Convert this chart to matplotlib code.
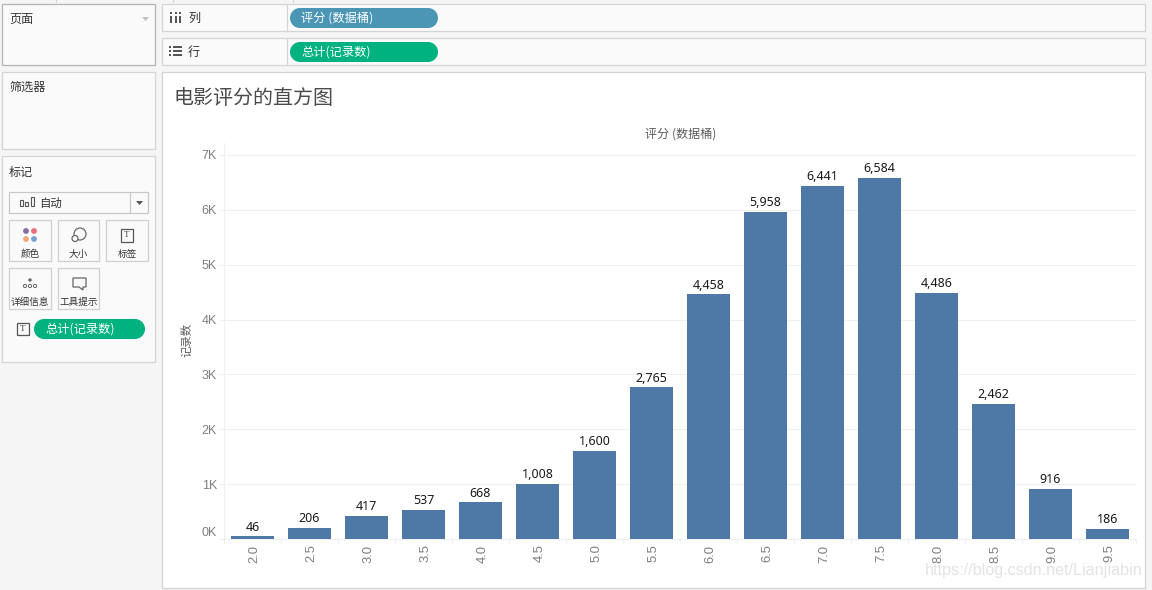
import matplotlib
matplotlib.use("Agg")
import matplotlib.pyplot as plt
from matplotlib.patches import Rectangle, Circle, Polygon
from matplotlib.ticker import FuncFormatter
from matplotlib.transforms import ScaledTranslation

plt.rcParams['font.family'] = ['Noto Sans CJK SC', 'DejaVu Sans']

bins = ["2.0","2.5","3.0","3.5","4.0","4.5","5.0","5.5","6.0","6.5","7.0","7.5","8.0","8.5","9.0","9.5"]
counts = [46,206,417,537,668,1008,1600,2765,4458,5958,6441,6584,4486,2462,916,186]
y_ticks = [0,1000,2000,3000,4000,5000,6000,7000]
title = "电影评分的直方图"
x_title = "评分 (数据桶)"
y_title = "记录数"

W, H = 1152, 590
fig = plt.figure(figsize=(W/100, H/100), dpi=100, facecolor="#f5f5f5")

ui = fig.add_axes([0, 0, 1, 1])
ui.set_xlim(0, W); ui.set_ylim(H, 0); ui.axis("off")

def box(x0, y0, x1, y1, fc="#fafafa", ec="#d4d4d4", lw=0.9, z=1):
    ui.add_patch(Rectangle((x0, y0), x1-x0, y1-y0, fc=fc, ec=ec, lw=lw, zorder=z))

def pill(x0, y0, x1, y1, color, label, tx):
    r = (y1-y0)/2
    ui.add_patch(Rectangle((x0+r, y0), x1-x0-2*r, y1-y0, fc=color, ec="none", zorder=3))
    ui.add_patch(Circle((x0+r, (y0+y1)/2), r, fc=color, ec="none", zorder=3))
    ui.add_patch(Circle((x1-r, (y0+y1)/2), r, fc=color, ec="none", zorder=3))
    ui.text(tx, (y0+y1)/2, label, color="white", fontsize=8.8, va="center", ha="left", zorder=4)

def label(x, y, s, size=8.7, ha="left", color="#333333"):
    ui.text(x, y, s, fontsize=size, ha=ha, va="center", color=color, zorder=4)

# hints of the toolbar at the very top
for xx in [55.5, 172.5, 292.5]:
    ui.plot([xx, xx], [0, 2], color="#d4d4d4", lw=0.8, zorder=1)

# left panels
box(2, 4, 155, 65, ec="#b4b4b4")
label(9, 19, "页面")
ui.add_patch(Polygon([[142, 17], [149, 17], [145.5, 21]], fc="#c0c0c0", ec="none", zorder=4))
box(2, 72, 155, 149)
label(9, 87, "筛选器")
box(2, 156, 155, 362)
label(9, 172, "标记")

# mark type dropdown
box(9, 192, 148, 213, fc="#fafafa", ec="#c8c8c8", z=2)
ui.plot([130, 130], [193, 213], color="#c8c8c8", lw=0.9, zorder=3)
for bx, by, bh in [(20, 200, 6), (25, 202, 4), (31, 197, 9)]:
    ui.add_patch(Rectangle((bx, by), 2.5, bh, fc="none", ec="#555555", lw=0.8, zorder=3))
label(39, 203, "自动", size=8.2)
ui.add_patch(Polygon([[136, 201], [143, 201], [139.5, 205]], fc="#555555", ec="none", zorder=4))

# mark buttons
buttons = [(9, 220, 51, 261, "颜色"), (58, 220, 99, 261, "大小"), (106, 220, 148, 261, "标签"),
           (9, 268, 51, 309, "详细信息"), (58, 268, 99, 309, "工具提示")]
for x0, y0, x1, y1, s in buttons:
    box(x0, y0, x1, y1, ec="#d0d0d0", z=2)
    ui.text((x0+x1)/2, y1-7, s, fontsize=6.9, ha="center", va="center", color="#333333", zorder=4)
for cx, cy, c in [(26, 231, "#8a6d9e"), (34, 231, "#ee6d7e"), (26, 239, "#f2a877"), (34, 239, "#7b9fcf")]:
    ui.add_patch(Circle((cx, cy), 2.9, fc=c, ec="none", zorder=4))
ui.add_patch(Circle((80, 234), 6, fc="none", ec="#666666", lw=0.9, zorder=4))
ui.add_patch(Circle((75, 238.5), 3, fc="#fafafa", ec="#666666", lw=0.9, zorder=5))
ui.add_patch(Rectangle((120.5, 229), 12.5, 12.5, fc="none", ec="#555555", lw=0.9, zorder=4))
ui.text(126.7, 235.2, "T", fontsize=6.5, family="Liberation Serif", ha="center", va="center", color="#444444", zorder=5)
ui.add_patch(Circle((30, 280), 1.7, fc="#666666", ec="none", zorder=4))
for xx in [25, 30, 35]:
    ui.add_patch(Circle((xx, 286), 1.6, fc="none", ec="#666666", lw=0.7, zorder=4))
ui.add_patch(Polygon([[73, 278], [86, 278], [86, 287], [83, 287], [83, 290], [79, 287], [73, 287]],
                     fc="none", ec="#666666", lw=0.9, zorder=4))
ui.add_patch(Rectangle((16.5, 323), 12, 12, fc="none", ec="#555555", lw=0.9, zorder=4))
ui.text(22.5, 329, "T", fontsize=6.5, family="Liberation Serif", ha="center", va="center", color="#444444", zorder=5)
pill(34, 319, 145, 339, "#00b27f", "总计(记录数)", 45)

# shelves
box(162, 4, 1145, 31)
box(162, 38, 1145, 65)
ui.plot([287, 287], [5, 31], color="#d4d4d4", lw=0.9, zorder=2)
ui.plot([287, 287], [39, 65], color="#d4d4d4", lw=0.9, zorder=2)
for xx in [171, 175.5, 179.5]:
    ui.add_patch(Rectangle((xx-1, 15.5), 2, 7.5, fc="#555555", ec="none", zorder=3))
    ui.add_patch(Rectangle((xx-1, 12), 2, 2, fc="#555555", ec="none", zorder=3))
for yy in [46.5, 50.5, 54.5]:
    ui.add_patch(Rectangle((169, yy-1), 2, 2, fc="#555555", ec="none", zorder=3))
    ui.add_patch(Rectangle((172.5, yy-1), 9, 2, fc="#555555", ec="none", zorder=3))
label(188, 18.5, "列")
label(188, 52, "行")
pill(290, 8, 438, 28, "#4a96b4", "评分 (数据桶)", 301)
pill(290, 42, 438, 62, "#00b27f", "总计(记录数)", 301)

# chart panel
box(162, 72, 1145, 588, fc="white", ec="#d4d4d4")
ui.text(174, 98.5, title, fontsize=14.4, color="#4a4a4a", ha="left", va="center", zorder=4)
ui.text(681, 134, x_title, fontsize=8.7, color="#5c5c5c", ha="center", va="center", zorder=4)
ui.text(187, 340, y_title, fontsize=8.2, color="#5c5c5c", rotation=90, ha="center", va="center", zorder=4)
ui.text(1143, 571, "https://blog.csdn.net/Lianjiabin", fontsize=11.6, family="Liberation Sans",
        color="#dcdcdc", alpha=0.8, ha="right", va="center", zorder=10)

# chart
ax = fig.add_axes([224/W, (H-539)/H, 912/W, 396/H])
ax.patch.set_alpha(0)
xs = list(range(len(bins)))
bars = ax.bar(xs, counts, width=43/57, color="#4e79a7", zorder=3)
ax.set_xlim(-0.5, 15.5)
ax.set_ylim(0, 396/54.86*1000)
ax.set_yticks(y_ticks)
ax.yaxis.set_major_formatter(FuncFormatter(lambda v, p: f"{int(v/1000)}K"))
ax.set_xticks(xs)
ax.set_xticklabels(bins, rotation=90, fontsize=9.4, color="#7f7f7f", family="Liberation Sans")
ax.set_xticks([i-0.5 for i in range(len(bins)+1)], minor=True)
ax.grid(axis="y", color="#f0f0f0", lw=0.75, zorder=0)
ax.tick_params(axis="x", which="major", length=0, pad=4)
ax.tick_params(axis="x", which="minor", length=3.6, color="#f0f0f0", width=0.75)
ax.tick_params(axis="y", length=3.6, color="#f0f0f0", width=0.75, labelsize=9, labelcolor="#7f7f7f", pad=1.4)
shift = ScaledTranslation(2/100, 0, fig.dpi_scale_trans)
for lab in ax.get_xticklabels():
    lab.set_transform(lab.get_transform() + shift)
for lab in ax.get_yticklabels():
    lab.set_family("Liberation Sans")
ax.get_yticklabels()[0].set_verticalalignment("bottom")
for s in ["top", "right"]:
    ax.spines[s].set_visible(False)
for s in ["left", "bottom"]:
    ax.spines[s].set_color("#f0f0f0")
    ax.spines[s].set_linewidth(0.75)
ax.bar_label(bars, labels=[f"{c:,}" for c in counts], padding=2, fontsize=9,
             color="#1a1a1a", family="Noto Sans")

fig.savefig("out.png", dpi=100, facecolor=fig.get_facecolor())
